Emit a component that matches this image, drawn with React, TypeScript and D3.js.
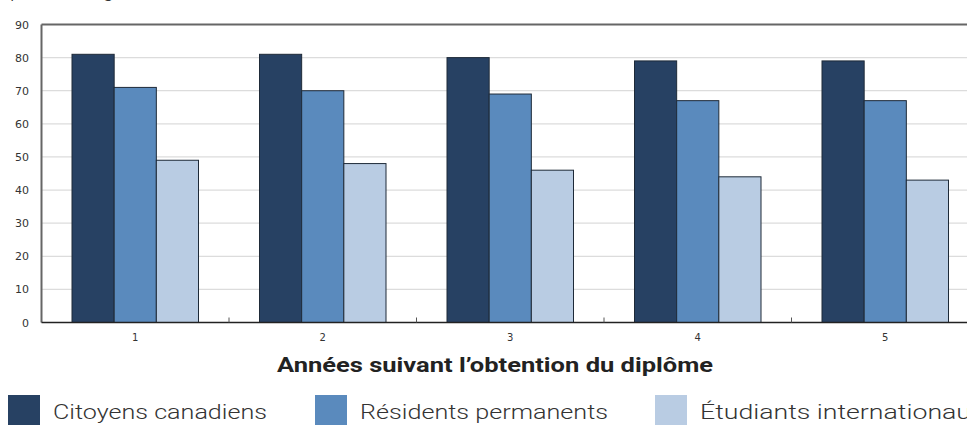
import React from "react";
import * as d3 from "d3";

const categories = ["1", "2", "3", "4", "5"];
const seriesNames = ["Citoyens canadiens", "Résidents permanents", "Étudiants internationaux"];
const citoyens = [81, 81, 80, 79, 79];
const residents = [71, 70, 69, 67, 67];
const etudiants = [49, 48, 46, 44, 43];
const yTicks = [0, 10, 20, 30, 40, 50, 60, 70, 80, 90];
const colors = ["#274163", "#5a8abd", "#b9cce3"];

const W = 967;
const H = 425;
const left = 41.5;
const right = 979;
const top = 24.5;
const bottom = 322.5;

export default function App() {
  const series = [citoyens, residents, etudiants];
  const x = d3.scaleBand<string>().domain(categories).range([left, right]).paddingInner(0).paddingOuter(0);
  const inner = d3.scaleBand<number>().domain([0, 1, 2]).range([30.5, x.bandwidth() - 30.5]).padding(0);
  const y = d3.scaleLinear().domain([0, 90]).range([bottom, top]);
  const tickFont = "'DejaVu Sans', Verdana, sans-serif";
  const mainFont = "Roboto, 'Noto Sans', sans-serif";
  const legendX = [8, 315, 655];
  const legendLen = [214, 248, 284];
  return (
    <svg width={W} height={H} style={{ position: "absolute", left: 0, top: 0, background: "#fff" }}>
      <text x={10} y={-3} fontFamily={mainFont} fontSize={20} fill="#333" fontWeight={300} textLength={115} lengthAdjust="spacingAndGlyphs">pourcentage</text>
      {yTicks.filter((t) => t > 0 && t < 90).map((t) => (
        <line key={"g" + t} x1={left} x2={W} y1={y(t)} y2={y(t)} stroke="#dcdcdc" strokeWidth={1.3} />
      ))}
      {yTicks.map((t) => (
        <text key={"t" + t} x={29} y={y(t) + 4} textAnchor="end" fontFamily={tickFont} fontSize={11} fill="#333">{t}</text>
      ))}
      {categories.map((c, ci) =>
        series.map((s, si) => (
          <rect
            key={c + "-" + si}
            x={(x(c) as number) + (inner(si) as number)}
            y={y(s[ci])}
            width={inner.bandwidth()}
            height={bottom - y(s[ci])}
            fill={colors[si]}
            stroke="#1e2a38"
            strokeWidth={1}
          />
        ))
      )}
      <line x1={left} x2={W} y1={top} y2={top} stroke="#666" strokeWidth={2} />
      <line x1={left} x2={left} y1={top} y2={bottom} stroke="#666" strokeWidth={2} />
      <line x1={left} x2={W} y1={bottom} y2={bottom} stroke="#222" strokeWidth={1.5} />
      {categories.slice(1).map((c) => (
        <line key={"s" + c} x1={x(c) as number} x2={x(c) as number} y1={bottom} y2={bottom - 5} stroke="#555" strokeWidth={1} />
      ))}
      {categories.map((c) => (
        <text key={"c" + c} x={(x(c) as number) + x.bandwidth() / 2} y={341} textAnchor="middle" fontFamily={tickFont} fontSize={10} fill="#333">{c}</text>
      ))}
      <text x={277} y={372} fontFamily={mainFont} fontWeight={700} fontSize={20} fill="#222" textLength={436} lengthAdjust="spacingAndGlyphs">
        Années suivant l’obtention du diplôme
      </text>
      {seriesNames.map((n, i) => (
        <g key={n}>
          <rect x={legendX[i]} y={395} width={32} height={30} fill={colors[i]} />
          <text x={legendX[i] + 45} y={419} fontFamily={mainFont} fontWeight={300} fontSize={21} fill="#333" textLength={legendLen[i]} lengthAdjust="spacingAndGlyphs">{n}</text>
        </g>
      ))}
    </svg>
  );
}
